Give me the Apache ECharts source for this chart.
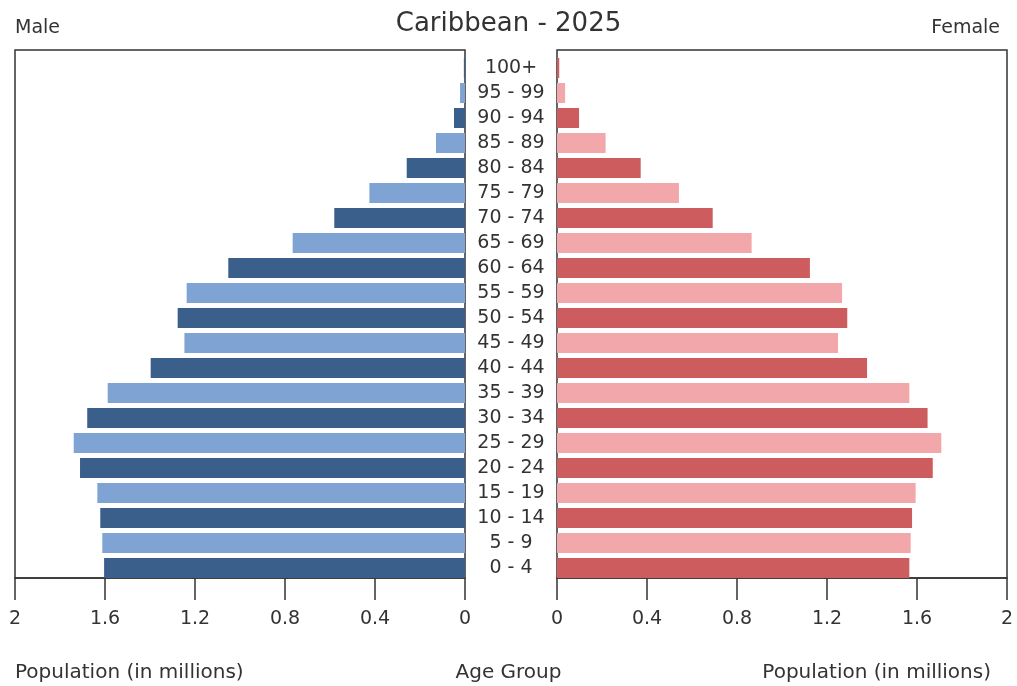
<!DOCTYPE html>
<html>
<head>
<meta charset="utf-8">
<script src="https://cdn.jsdelivr.net/npm/echarts@6/dist/echarts.min.js"></script>
<style>
  html, body { margin: 0; padding: 0; background: #fff; }
  #chart { width: 1017px; height: 686px; }
</style>
</head>
<body>
<div id="chart"></div>
<script>
// age groups, bottom to top
const ageGroups = ['0 - 4', '5 - 9', '10 - 14', '15 - 19', '20 - 24', '25 - 29', '30 - 34',
  '35 - 39', '40 - 44', '45 - 49', '50 - 54', '55 - 59', '60 - 64', '65 - 69', '70 - 74',
  '75 - 79', '80 - 84', '85 - 89', '90 - 94', '95 - 99', '100+'];
// population in millions
const male = [1.604, 1.612, 1.621, 1.634, 1.711, 1.739, 1.679, 1.588, 1.397, 1.247, 1.277,
  1.237, 1.052, 0.766, 0.581, 0.425, 0.259, 0.129, 0.049, 0.022, 0.005];
const female = [1.566, 1.572, 1.578, 1.594, 1.670, 1.708, 1.647, 1.566, 1.378, 1.249, 1.290,
  1.267, 1.124, 0.865, 0.692, 0.542, 0.372, 0.216, 0.098, 0.036, 0.01];
const ticks = [0, 0.4, 0.8, 1.2, 1.6, 2];

const font = 'DejaVu Sans';
const textColor = '#333';

const chart = echarts.init(document.getElementById('chart'));

// grids 0/1 draw the frames and visible axes, grids 2/3 hold the bars
// (bars sit flush with the bottom axis like in the original)
const valueAxis = (gridIndex, inverse, visible) => ({
  type: 'value',
  gridIndex: gridIndex,
  min: ticks[0],
  max: ticks[ticks.length - 1],
  interval: 0.4,
  inverse: inverse,
  show: visible,
  splitLine: { show: false },
  axisLine: { show: true, lineStyle: { color: '#333', width: 1.5 } },
  axisTick: { show: true, inside: false, length: 22, lineStyle: { color: '#333', width: 1.5 } },
  axisLabel: {
    color: textColor, fontFamily: font, fontSize: 19, margin: 32,
    formatter: v => String(+v.toFixed(1))
  }
});

const label = (text, pos, size) => Object.assign({
  text: text,
  textStyle: { fontFamily: font, fontSize: size, fontWeight: 'normal', color: textColor }
}, pos);

chart.setOption({
  animation: false,
  backgroundColor: '#fff',
  title: [
    label('Caribbean - 2025', { left: 'center', top: 6 }, 26),
    label('Male', { left: 10, top: 14 }, 19),
    label('Female', { right: 12, top: 14 }, 19),
    label('Population (in millions)', { left: 10, top: 658 }, 20),
    label('Age Group', { left: 'center', top: 658 }, 20),
    label('Population (in millions)', { right: 21, top: 658 }, 20)
  ],
  grid: [
    { left: 15, right: 552, top: 50, bottom: 108, show: true,
      borderColor: '#333', borderWidth: 1.5, backgroundColor: 'transparent' },
    { left: 557, right: 10, top: 50, bottom: 108, show: true,
      borderColor: '#333', borderWidth: 1.5, backgroundColor: 'transparent' },
    { left: 15, right: 552, top: 55.5, bottom: 105.5 },
    { left: 557, right: 10, top: 55.5, bottom: 105.5 }
  ],
  xAxis: [
    valueAxis(0, true, true), valueAxis(1, false, true),
    valueAxis(2, true, false), valueAxis(3, false, false)
  ],
  yAxis: [
    { type: 'category', gridIndex: 0, data: ageGroups, show: false },
    { type: 'category', gridIndex: 1, data: ageGroups, show: false },
    {
      type: 'category', gridIndex: 2, data: ageGroups, position: 'right',
      axisLine: { show: false }, axisTick: { show: false },
      axisLabel: {
        interval: 0, color: textColor, fontFamily: font, fontSize: 19,
        margin: 46, align: 'center', padding: [4, 0, 0, 0]
      }
    },
    { type: 'category', gridIndex: 3, data: ageGroups, show: false }
  ],
  series: [
    {
      name: 'Male', type: 'bar', xAxisIndex: 2, yAxisIndex: 2, data: male,
      barCategoryGap: '20%',
      itemStyle: { color: p => (p.dataIndex % 2 ? '#7fa4d4' : '#3b5f8b') }
    },
    {
      name: 'Female', type: 'bar', xAxisIndex: 3, yAxisIndex: 3, data: female,
      barCategoryGap: '20%',
      itemStyle: { color: p => (p.dataIndex % 2 ? '#f2a7aa' : '#cc5c5e') }
    }
  ]
});
</script>
</body>
</html>
